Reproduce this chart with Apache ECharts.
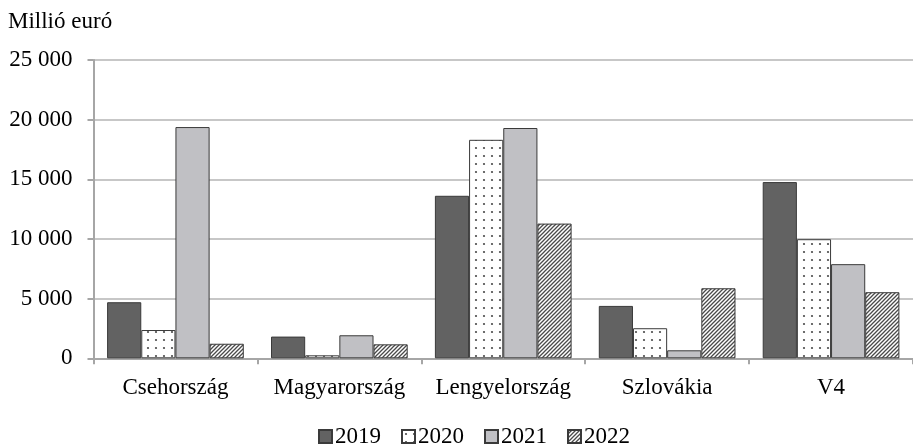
<!DOCTYPE html>
<html>
<head>
<meta charset="utf-8">
<script src="https://cdn.jsdelivr.net/npm/echarts@6/dist/echarts.min.js"></script>
<style>
  html, body { margin: 0; padding: 0; background: #ffffff; overflow: hidden; }
  #chart { width: 913px; height: 448px; }
</style>
</head>
<body>
<div id="chart"></div>
<script>
// Countries and yearly values (million euro)
const categories = ['Csehország', 'Magyarország', 'Lengyelország', 'Szlovákia', 'V4'];
const years = ['2019', '2020', '2021', '2022'];
const v2019 = [4700, 1820, 13620, 4390, 14770];
const v2020 = [2370, 250, 18310, 2520, 9980];
const v2021 = [19380, 1930, 19300, 670, 7890];
const v2022 = [1220, 1170, 11290, 5870, 5540];
const yTicks = [0, 5000, 10000, 15000, 20000, 25000];

const FONT = '"Liberation Serif", "Times New Roman", serif';

// Dotted fill for 2020
function dotPattern() {
  const c = document.createElement('canvas');
  c.width = 8; c.height = 8;
  const g = c.getContext('2d');
  g.fillStyle = '#ffffff';
  g.fillRect(0, 0, 8, 8);
  g.fillStyle = '#4a4a4a';
  g.beginPath();
  g.arc(4, 4, 1.1, 0, Math.PI * 2);
  g.fill();
  return c;
}

// Diagonal hatch fill for 2022
function hatchPattern() {
  const s = 4;
  const c = document.createElement('canvas');
  c.width = s; c.height = s;
  const g = c.getContext('2d');
  g.fillStyle = '#ffffff';
  g.fillRect(0, 0, s, s);
  g.strokeStyle = '#4a4a4a';
  g.lineWidth = 1.3;
  g.beginPath();
  g.moveTo(0, s); g.lineTo(s, 0);
  g.moveTo(-1, 1); g.lineTo(1, -1);
  g.moveTo(s - 1, s + 1); g.lineTo(s + 1, s - 1);
  g.stroke();
  return c;
}

const fills = [
  '#626262',
  { image: dotPattern(), repeat: 'repeat' },
  '#c0c0c4',
  { image: hatchPattern(), repeat: 'repeat' }
];
const values = [v2019, v2020, v2021, v2022];

function fmt(v) {
  return String(v).replace(/\B(?=(\d{3})+(?!\d))/g, ' ');
}

const chart = echarts.init(document.getElementById('chart'), null, { renderer: 'canvas' });

chart.setOption({
  backgroundColor: '#ffffff',
  animation: false,
  title: {
    text: 'Millió euró',
    left: 8,
    top: 10,
    padding: 0,
    textStyle: { fontFamily: FONT, fontSize: 23, fontWeight: 'normal', color: '#000000' }
  },
  legend: {
    data: years,
    left: 313,
    top: 420,
    itemWidth: 13,
    itemHeight: 13,
    itemGap: 20,
    icon: 'rect',
    textStyle: { fontFamily: FONT, fontSize: 23, color: '#000000', padding: [0, 0, 0, -2] }
  },
  grid: { left: 93.5, top: 60, width: 827.5, height: 298.3 },
  xAxis: {
    type: 'category',
    data: categories,
    axisLine: { lineStyle: { color: '#a6a6a6', width: 2 } },
    axisTick: { show: true, length: 6, lineStyle: { color: '#a6a6a6', width: 2 } },
    axisLabel: { interval: 0, fontFamily: FONT, fontSize: 23, color: '#000000', margin: 18 }
  },
  yAxis: {
    type: 'value',
    min: yTicks[0],
    max: yTicks[yTicks.length - 1],
    interval: 5000,
    axisLine: { show: true, lineStyle: { color: '#a6a6a6', width: 2 } },
    axisTick: { show: true, length: 6, lineStyle: { color: '#a6a6a6', width: 2 } },
    splitLine: { lineStyle: { color: '#b4b4b4', width: 1.5 } },
    axisLabel: { fontFamily: FONT, fontSize: 23, color: '#000000', margin: 21, formatter: fmt }
  },
  series: years.map((y, i) => ({
    name: y,
    type: 'bar',
    data: values[i],
    barGap: '0%',
    barCategoryGap: '16.6%',
    itemStyle: { color: fills[i], borderColor: '#3a3a3a', borderWidth: 1 }
  }))
});
</script>
</body>
</html>
